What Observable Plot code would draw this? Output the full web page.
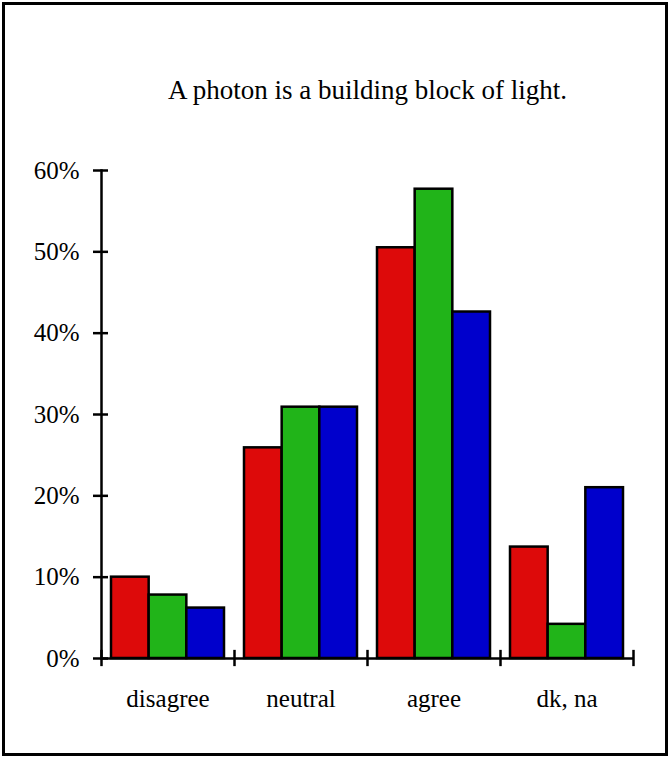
<!DOCTYPE html>
<html>
<head>
<meta charset="utf-8">
<script src="https://cdn.jsdelivr.net/npm/d3@7"></script>
<script src="https://cdn.jsdelivr.net/npm/@observablehq/plot@0.6"></script>
<style>
  html, body { margin: 0; padding: 0; background: #fff; }
  #chart svg { display: block; outline: 3px solid #000; outline-offset: -5px; }
  #chart svg, #chart svg text { font-family: "Liberation Serif", "Times New Roman", serif !important; }
</style>
</head>
<body>
<div id="chart"></div>
<script>
const title = "A photon is a building block of light.";
const categories = ["disagree", "neutral", "agree", "dk, na"];
const seriesNames = ["group 1", "group 2", "group 3"];
const redValues = [10.0, 25.9, 50.5, 13.7];
const greenValues = [7.8, 30.9, 57.7, 4.2];
const blueValues = [6.2, 30.9, 42.6, 21.0];
const yTicks = [0, 10, 20, 30, 40, 50, 60];
const colors = ["#dd0a0a", "#21b419", "#0000cc"];

const seriesValues = [redValues, greenValues, blueValues];

const W = 670, H = 758;
const mL = 101, mR = 37, mT = 170, mB = 100;
const bw = (W - mL - mR) / categories.length;
const outer = 10;
const step = (bw - 2 * outer) / seriesValues.length;
const SW = 2.5;
const FONT = "Liberation Serif";

const barMarks = seriesValues.map((vals, i) =>
  Plot.barY(categories, {
    x: d => d,
    y: (d, j) => vals[j],
    fill: colors[i],
    stroke: "#000",
    strokeWidth: SW,
    insetLeft: outer + i * step,
    insetRight: outer + (seriesValues.length - 1 - i) * step,
    title: (d, j) => `${seriesNames[i]} ${d}: ${vals[j]}%`
  })
);

const chart = Plot.plot({
  width: W,
  height: H,
  marginLeft: mL,
  marginRight: mR,
  marginTop: mT,
  marginBottom: mB,
  style: { fontFamily: FONT, fontSize: "25px", background: "#fff", color: "#000" },
  x: { domain: categories, padding: 0, axis: null },
  y: { domain: [0, 60], axis: null },
  marks: [
    ...barMarks,
    Plot.frame({ anchor: "left", strokeWidth: SW }),
    Plot.ruleY([0], { strokeWidth: SW }),
    Plot.ruleX(categories, { x: d => d, y1: -1, y2: 1, dx: -bw / 2, strokeWidth: SW }),
    Plot.ruleX([categories[categories.length - 1]], { x: d => d, y1: -1, y2: 1, dx: bw / 2, strokeWidth: SW }),
    Plot.axisY({ ticks: yTicks, tickFormat: d => d + "%", tickSize: 15, dx: 7, tickPadding: 14, strokeWidth: SW, label: null, fontSize: 25, fontFamily: FONT }),
    Plot.axisX({ tickSize: 0, tickPadding: 31, label: null, fontSize: 25, fontFamily: FONT }),
    Plot.text([title], { text: d => d, frameAnchor: "top", lineAnchor: "middle", dy: -80, fontSize: 27, fontFamily: FONT })
  ]
});

document.getElementById("chart").appendChild(chart);
</script>
</body>
</html>
